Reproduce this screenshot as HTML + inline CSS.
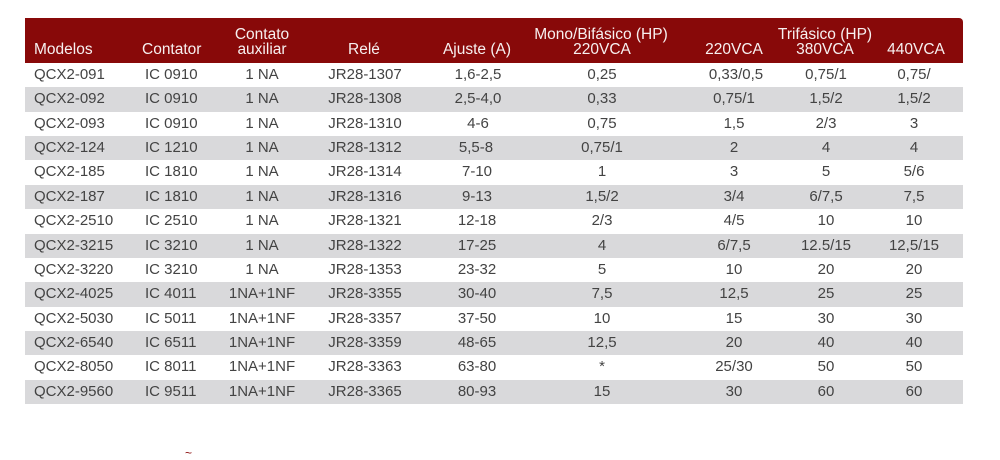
<!DOCTYPE html>
<html><head><meta charset="utf-8">
<style>
html,body{margin:0;padding:0;background:#fff;}
body{width:1000px;height:457px;position:relative;overflow:hidden;font-family:"Liberation Sans",Arial,sans-serif;}
.hdr{position:absolute;left:25px;top:18px;width:938px;height:45px;background:#880909;border-top-right-radius:4px;}
.h{position:absolute;color:#f7f0f0;font-size:15.5px;line-height:17px;white-space:nowrap;}
.c{text-align:center;width:160px;margin-left:-80px;}
.row{position:absolute;left:25px;width:938px;}
.g{background:#d9d9db;}
.row span{position:absolute;top:0;font-size:15px;color:#434343;white-space:nowrap;}
.row span.m{left:9px;}
.row span.k{left:120px;}
.row span.x{width:140px;margin-left:-70px;text-align:center;}
</style></head><body>
<div class="hdr"></div>
<div class="h" style="left:34px;top:41px;">Modelos</div>
<div class="h" style="left:142px;top:41px;">Contator</div>
<div class="h c" style="left:262px;top:26px;">Contato</div>
<div class="h c" style="left:262px;top:41px;">auxiliar</div>
<div class="h c" style="left:364px;top:41px;">Relé</div>
<div class="h c" style="left:477px;top:41px;">Ajuste (A)</div>
<div class="h c" style="left:601px;top:26px;">Mono/Bifásico (HP)</div>
<div class="h c" style="left:602px;top:41px;">220VCA</div>
<div class="h c" style="left:825px;top:26px;">Trifásico (HP)</div>
<div class="h c" style="left:734px;top:41px;">220VCA</div>
<div class="h c" style="left:825px;top:41px;">380VCA</div>
<div class="h c" style="left:916px;top:41px;">440VCA</div>

<div class="row" style="top:63px;height:24.4px;line-height:24.4px;"><span class="m">QCX2-091</span><span class="k">IC 0910</span><span class="x" style="left:237px">1 NA</span><span class="x" style="left:340px">JR28-1307</span><span class="x" style="left:453px">1,6-2,5</span><span class="x" style="left:577px">0,25</span><span class="x" style="left:711px">0,33/0,5</span><span class="x" style="left:801px">0,75/1</span><span class="x" style="left:889px">0,75/</span></div>
<div class="row g" style="top:87.4px;height:24.4px;line-height:24.4px;"><span class="m">QCX2-092</span><span class="k">IC 0910</span><span class="x" style="left:237px">1 NA</span><span class="x" style="left:340px">JR28-1308</span><span class="x" style="left:453px">2,5-4,0</span><span class="x" style="left:577px">0,33</span><span class="x" style="left:709px">0,75/1</span><span class="x" style="left:801px">1,5/2</span><span class="x" style="left:889px">1,5/2</span></div>
<div class="row" style="top:111.7px;height:24.4px;line-height:24.4px;"><span class="m">QCX2-093</span><span class="k">IC 0910</span><span class="x" style="left:237px">1 NA</span><span class="x" style="left:340px">JR28-1310</span><span class="x" style="left:453px">4-6</span><span class="x" style="left:577px">0,75</span><span class="x" style="left:709px">1,5</span><span class="x" style="left:801px">2/3</span><span class="x" style="left:889px">3</span></div>
<div class="row g" style="top:136.1px;height:24.4px;line-height:24.4px;"><span class="m">QCX2-124</span><span class="k">IC 1210</span><span class="x" style="left:237px">1 NA</span><span class="x" style="left:340px">JR28-1312</span><span class="x" style="left:451px">5,5-8</span><span class="x" style="left:577px">0,75/1</span><span class="x" style="left:709px">2</span><span class="x" style="left:801px">4</span><span class="x" style="left:889px">4</span></div>
<div class="row" style="top:160.4px;height:24.4px;line-height:24.4px;"><span class="m">QCX2-185</span><span class="k">IC 1810</span><span class="x" style="left:237px">1 NA</span><span class="x" style="left:340px">JR28-1314</span><span class="x" style="left:452px">7-10</span><span class="x" style="left:577px">1</span><span class="x" style="left:709px">3</span><span class="x" style="left:801px">5</span><span class="x" style="left:889px">5/6</span></div>
<div class="row g" style="top:184.8px;height:24.4px;line-height:24.4px;"><span class="m">QCX2-187</span><span class="k">IC 1810</span><span class="x" style="left:237px">1 NA</span><span class="x" style="left:340px">JR28-1316</span><span class="x" style="left:452px">9-13</span><span class="x" style="left:577px">1,5/2</span><span class="x" style="left:709px">3/4</span><span class="x" style="left:801px">6/7,5</span><span class="x" style="left:889px">7,5</span></div>
<div class="row" style="top:209.1px;height:24.4px;line-height:24.4px;"><span class="m">QCX2-2510</span><span class="k">IC 2510</span><span class="x" style="left:237px">1 NA</span><span class="x" style="left:340px">JR28-1321</span><span class="x" style="left:452px">12-18</span><span class="x" style="left:577px">2/3</span><span class="x" style="left:709px">4/5</span><span class="x" style="left:801px">10</span><span class="x" style="left:889px">10</span></div>
<div class="row g" style="top:233.5px;height:24.4px;line-height:24.4px;"><span class="m">QCX2-3215</span><span class="k">IC 3210</span><span class="x" style="left:237px">1 NA</span><span class="x" style="left:340px">JR28-1322</span><span class="x" style="left:452px">17-25</span><span class="x" style="left:577px">4</span><span class="x" style="left:709px">6/7,5</span><span class="x" style="left:801px">12.5/15</span><span class="x" style="left:889px">12,5/15</span></div>
<div class="row" style="top:257.9px;height:24.4px;line-height:24.4px;"><span class="m">QCX2-3220</span><span class="k">IC 3210</span><span class="x" style="left:237px">1 NA</span><span class="x" style="left:340px">JR28-1353</span><span class="x" style="left:452px">23-32</span><span class="x" style="left:577px">5</span><span class="x" style="left:709px">10</span><span class="x" style="left:801px">20</span><span class="x" style="left:889px">20</span></div>
<div class="row g" style="top:282.2px;height:24.4px;line-height:24.4px;"><span class="m">QCX2-4025</span><span class="k">IC 4011</span><span class="x" style="left:237px">1NA+1NF</span><span class="x" style="left:340px">JR28-3355</span><span class="x" style="left:452px">30-40</span><span class="x" style="left:577px">7,5</span><span class="x" style="left:709px">12,5</span><span class="x" style="left:801px">25</span><span class="x" style="left:889px">25</span></div>
<div class="row" style="top:306.6px;height:24.4px;line-height:24.4px;"><span class="m">QCX2-5030</span><span class="k">IC 5011</span><span class="x" style="left:237px">1NA+1NF</span><span class="x" style="left:340px">JR28-3357</span><span class="x" style="left:452px">37-50</span><span class="x" style="left:577px">10</span><span class="x" style="left:709px">15</span><span class="x" style="left:801px">30</span><span class="x" style="left:889px">30</span></div>
<div class="row g" style="top:330.9px;height:24.4px;line-height:24.4px;"><span class="m">QCX2-6540</span><span class="k">IC 6511</span><span class="x" style="left:237px">1NA+1NF</span><span class="x" style="left:340px">JR28-3359</span><span class="x" style="left:452px">48-65</span><span class="x" style="left:577px">12,5</span><span class="x" style="left:709px">20</span><span class="x" style="left:801px">40</span><span class="x" style="left:889px">40</span></div>
<div class="row" style="top:355.3px;height:24.4px;line-height:24.4px;"><span class="m">QCX2-8050</span><span class="k">IC 8011</span><span class="x" style="left:237px">1NA+1NF</span><span class="x" style="left:340px">JR28-3363</span><span class="x" style="left:452px">63-80</span><span class="x" style="left:577px">*</span><span class="x" style="left:709px">25/30</span><span class="x" style="left:801px">50</span><span class="x" style="left:889px">50</span></div>
<div class="row g" style="top:379.6px;height:24.4px;line-height:24.4px;"><span class="m">QCX2-9560</span><span class="k">IC 9511</span><span class="x" style="left:237px">1NA+1NF</span><span class="x" style="left:340px">JR28-3365</span><span class="x" style="left:452px">80-93</span><span class="x" style="left:577px">15</span><span class="x" style="left:709px">30</span><span class="x" style="left:801px">60</span><span class="x" style="left:889px">60</span></div>

<div style="position:absolute;left:185px;top:447px;font-size:12px;line-height:12px;color:#8a0a0a;">~</div>
</body></html>
